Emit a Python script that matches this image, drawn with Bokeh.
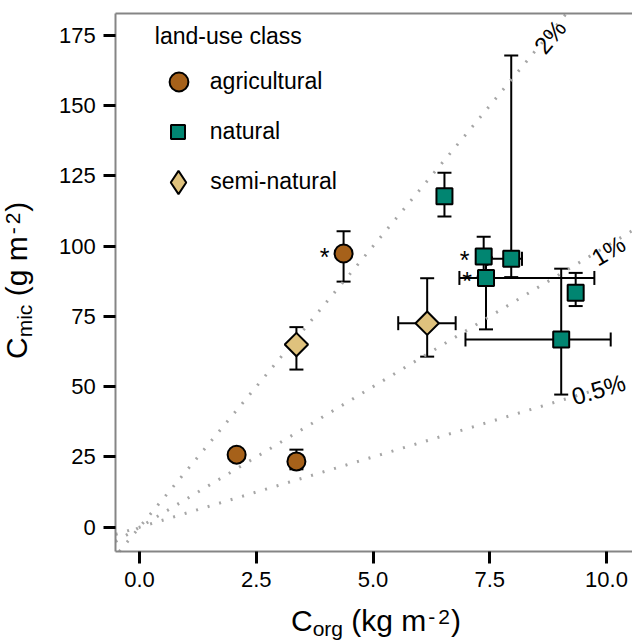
import math
from bokeh.plotting import figure
from bokeh.models import (ColumnDataSource, Whisker, TeeHead, Label, LabelSet,
                          Legend, LegendItem, LinearAxis, FixedTicker, Range1d,
                          NumeralTickFormatter)
from bokeh.core.properties import value
from bokeh.embed import file_html
from bokeh.resources import INLINE

# ---------------- data ----------------
classes = ["agricultural", "natural", "semi-natural"]

agri_x = [2.08, 3.36, 4.37]
agri_y = [25.8, 23.4, 97.4]
agri_ylo = [None, 20.6, 87.4]
agri_yhi = [None, 27.6, 105.3]
agri_star = [False, False, True]

nat_x = [6.53, 7.37, 7.96, 7.42, 9.34, 9.03]
nat_y = [117.8, 96.3, 95.5, 88.7, 83.4, 66.8]
nat_ylo = [110.6, 89.2, 89.0, 70.4, 78.7, 47.2]
nat_yhi = [126.1, 103.4, 167.9, 96.0, 90.5, 92.0]
nat_xlo = [None, None, 7.45, 6.85, None, 6.98]
nat_xhi = [None, None, 8.19, 9.74, None, 10.09]
nat_star = [False, True, False, True, False, False]

semi_x = [3.36, 6.16]
semi_y = [65.0, 72.6]
semi_ylo = [56.1, 60.7]
semi_yhi = [71.2, 88.6]
semi_xlo = [None, 5.54]
semi_xhi = [None, 6.77]
semi_star = [False, False]

pct_labels = ["2%", "1%", "0.5%"]
pct_slopes = [20, 10, 5]
pct_label_x = [8.79, 10.04, 9.83]
pct_label_y = [174.5, 98.4, 49.0]

x_ticks = [0, 2.5, 5, 7.5, 10]
y_ticks = [0, 25, 50, 75, 100, 125, 150, 175]

# panel limits (data units)
X0, X1 = -0.51, 10.56
Y0, Y1 = -8.65, 182.8

# ---------------- style / layout ----------------
FONT = "Liberation Sans"
AGRI, NAT, SEMI = "#A6611A", "#018571", "#DFC27D"
FRAME_GRAY = "#858585"
DOT_GRAY = "#a6a6a6"
W_PX, H_PX = 632, 641
PX_PER_X = 46.7      # pixels per x unit
PX_PER_Y = 2.81      # pixels per y unit
X_AT0, Y_AT0 = 139, 526.7   # pixel position of the data origin
MID = 0.33           # distance of the 'middle' text baseline above the alphabetic one (em)


def to_dx(px):
    return (px - X_AT0) / PX_PER_X


def to_dy(py):
    return (Y_AT0 - py) / PX_PER_Y


p = figure(width=W_PX, height=H_PX,
           x_range=Range1d(to_dx(0), to_dx(W_PX)), y_range=Range1d(to_dy(H_PX), to_dy(0)),
           output_backend="svg", toolbar_location=None,
           x_axis_location=None, y_axis_location=None,
           min_border_left=0, min_border_right=0, min_border_top=0, min_border_bottom=0)
p.outline_line_color = None
p.grid.visible = False
p.background_fill_color = "white"
p.border_fill_color = "white"


def style_axis(ax):
    ax.axis_line_color = FRAME_GRAY
    ax.axis_line_width = 2
    ax.major_tick_line_color = "black"
    ax.major_tick_line_width = 3
    ax.major_tick_out = 12
    ax.major_tick_in = 0
    ax.minor_tick_line_color = None
    ax.major_label_text_font = FONT
    ax.major_label_text_font_size = "22px"
    ax.major_label_text_color = "black"
    ax.major_label_standoff = 8


xaxis = LinearAxis(fixed_location=Y0, bounds=(X0, X1), ticker=FixedTicker(ticks=x_ticks),
                   formatter=NumeralTickFormatter(format="0.0"))
yaxis = LinearAxis(fixed_location=X0, bounds=(Y0, Y1), ticker=FixedTicker(ticks=y_ticks))
style_axis(xaxis)
style_axis(yaxis)
p.add_layout(xaxis, "below")
p.add_layout(yaxis, "left")
top = LinearAxis(fixed_location=Y1, bounds=(X0, X1), ticker=FixedTicker(ticks=[]),
                 axis_line_color=FRAME_GRAY, axis_line_width=2,
                 major_tick_line_color=None, minor_tick_line_color=None,
                 major_label_text_font_size="0px")
p.add_layout(top, "above")

# reference lines (C_mic = pct * C_org), clipped to the panel
lx0, ly0, lx1, ly1 = [], [], [], []
for s in pct_slopes:
    xs = max(X0, Y0 / s)
    xe = min(X1, Y1 / s)
    lx0.append(xs); ly0.append(s * xs); lx1.append(xe); ly1.append(s * xe)
p.segment(x0=lx0, y0=ly0, x1=lx1, y1=ly1, line_color=DOT_GRAY, line_width=3,
          line_dash="2 10")

lab_src = ColumnDataSource(dict(x=pct_label_x, y=pct_label_y, t=pct_labels,
                                a=[math.atan(s * PX_PER_Y / PX_PER_X) for s in pct_slopes]))
p.add_layout(LabelSet(x="x", y="y", text="t", angle="a", source=lab_src,
                      text_font=value(FONT), text_font_size=value("24px"),
                      text_color="black", text_align="center", text_baseline="middle"))

# error bars
vx, vlo, vhi = [], [], []
hy, hlo, hhi = [], [], []
for xs, ys, ylo, yhi, xlo, xhi in [
        (agri_x, agri_y, agri_ylo, agri_yhi, [None] * 3, [None] * 3),
        (nat_x, nat_y, nat_ylo, nat_yhi, nat_xlo, nat_xhi),
        (semi_x, semi_y, semi_ylo, semi_yhi, semi_xlo, semi_xhi)]:
    for i in range(len(xs)):
        if ylo[i] is not None:
            vx.append(xs[i]); vlo.append(ylo[i]); vhi.append(yhi[i])
        if xlo[i] is not None:
            hy.append(ys[i]); hlo.append(xlo[i]); hhi.append(xhi[i])

vsrc = ColumnDataSource(dict(base=vx, lower=vlo, upper=vhi))
hsrc = ColumnDataSource(dict(base=hy, lower=hlo, upper=hhi))


def head():
    return TeeHead(size=14, line_width=2, line_color="black")


p.add_layout(Whisker(source=vsrc, base="base", lower="lower", upper="upper",
                     dimension="height", line_width=2, line_color="black",
                     lower_head=head(), upper_head=head()))
p.add_layout(Whisker(source=hsrc, base="base", lower="lower", upper="upper",
                     dimension="width", line_width=2, line_color="black",
                     lower_head=head(), upper_head=head()))

# points
r_agri = p.scatter(agri_x, agri_y, marker="circle", size=18, fill_color=AGRI,
                   line_color="black", line_width=2)
r_nat = p.scatter(nat_x, nat_y, marker="square", size=16, fill_color=NAT,
                  line_color="black", line_width=2)
r_semi = p.scatter(semi_x, semi_y, marker="square", angle=math.pi / 4, size=16.5,
                   fill_color=SEMI, line_color="black", line_width=2)
# legend key for the diamond class (legend keys ignore marker angle)
r_semi_key = p.scatter(semi_x, semi_y, marker="diamond", fill_color=SEMI,
                       line_color="black", line_width=2, visible=False)

# significance stars
sx, sy = [], []
for xs, ys, st in [(agri_x, agri_y, agri_star), (nat_x, nat_y, nat_star),
                   (semi_x, semi_y, semi_star)]:
    for i in range(len(xs)):
        if st[i]:
            sx.append(xs[i]); sy.append(ys[i])
star_src = ColumnDataSource(dict(x=sx, y=sy, t=["*"] * len(sx)))
p.add_layout(LabelSet(x="x", y="y", text="t", source=star_src, x_offset=-19, y_offset=-3.5,
                      text_font=value(FONT), text_font_size=value("25px"),
                      text_color="black", text_align="center", text_baseline="middle"))

# legend: one block per row so each key gets its own size
common = dict(label_text_font=FONT, label_text_font_size="23px", label_text_color="black",
              spacing=0, padding=0, margin=0, border_line_color=None,
              background_fill_alpha=0, inactive_fill_alpha=0)
legA = Legend(items=[LegendItem(label=classes[0], renderers=[r_agri])],
              title="land-use class", title_text_font=FONT, title_text_font_size="23px",
              title_text_font_style="normal", title_text_color="black", title_standoff=8,
              glyph_width=47, glyph_height=47, label_standoff=8,
              location=(178.3 - 23.5, H_PX - (81.7 + 23.5)), **common)
legB = Legend(items=[LegendItem(label=classes[1], renderers=[r_nat])],
              glyph_width=35, glyph_height=35, label_standoff=15,
              location=(177.3 - 17.5, H_PX - (131.7 + 17.5)), **common)
legC = Legend(items=[LegendItem(label=classes[2], renderers=[r_semi_key])],
              glyph_width=58, glyph_height=58, label_standoff=3,
              location=(178.3 - 29, H_PX - (181.7 + 29)), **common)
for lg in (legA, legB, legC):
    p.add_layout(lg)

# composed axis titles (sub/superscripts)
W = {"C": 722, "o": 556, "r": 333, "g": 556, " ": 278, "(": 333, "k": 500, "m": 833,
     "-": 333, "2": 556, ")": 333, "i": 222, "c": 500}


def tw(t, size):
    return sum(W[c] for c in t) / 1000 * size


def runs_label(runs, start, base, vertical):
    """runs: (text, font px, baseline shift up px, gap before px)"""
    pos = start
    for text, size, shift, gap in runs:
        mid = base - shift - MID * size       # pixel position of the text's middle line
        if not vertical:
            pos += gap
            p.add_layout(Label(x=to_dx(pos), y=to_dy(mid), text=text,
                               text_font=FONT, text_font_size=f"{size}px",
                               text_color="black", text_align="left",
                               text_baseline="middle"))
            pos += tw(text, size)
        else:
            pos -= gap
            p.add_layout(Label(x=to_dx(mid), y=to_dy(pos), text=text,
                               angle=math.pi / 2, text_font=FONT,
                               text_font_size=f"{size}px", text_color="black",
                               text_align="left", text_baseline="middle"))
            pos -= tw(text, size)


SP = 0.278 * 30
runs_label([("C", 30, 0, 0), ("org", 21, -5, 0), ("(kg m", 30, 0, SP),
            ("-", 21, 7, 2), ("2", 21, 7, 3), (")", 30, 0, 1)],
           start=290.5, base=630, vertical=False)
runs_label([("C", 30, 0, 0), ("mic", 21, -5, 0), ("(g m", 30, 0, SP),
            ("-", 21, 7, 2), ("2", 21, 7, 3), (")", 30, 0, 1)],
           start=358.5, base=26, vertical=True)

open("out.html", "w").write(file_html(p, INLINE))
